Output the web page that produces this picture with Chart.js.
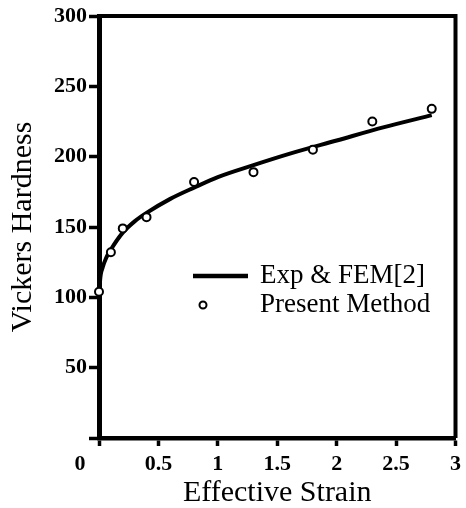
<!DOCTYPE html>
<html>
<head>
<meta charset="utf-8">
<script src="https://cdn.jsdelivr.net/npm/chart.js@4.4.1/dist/chart.umd.min.js"></script>
<style>
  html, body { margin: 0; padding: 0; background: #fff; }
  #wrap { width: 466px; height: 508px; }
</style>
</head>
<body>
<div id="wrap"><canvas id="c" width="466" height="508"></canvas></div>
<script>
// ---- data ----
const curveStrain   = [0, 0.01, 0.03, 0.06, 0.1, 0.2, 0.3, 0.4, 0.6, 0.8, 1.0, 1.3, 1.6, 2.0, 2.4, 2.8];
const curveHardness = [98, 113, 121, 128, 134, 146, 154, 160, 170, 178, 185.5, 194, 202, 211.5, 221, 229.5];
const presentStrain   = [0, 0.1, 0.2, 0.4, 0.8, 1.3, 1.8, 2.3, 2.8];
const presentHardness = [104, 132, 149, 157, 182, 189, 205, 225, 234];
const xTicks = [0, 0.5, 1, 1.5, 2, 2.5, 3];
const yTicks = [0, 50, 100, 150, 200, 250, 300];
const seriesNames = ['Exp & FEM[2]', 'Present Method'];
const xTitle = 'Effective Strain';
const yTitle = 'Vickers Hardness';

const SERIF = '"Liberation Serif", "Times New Roman", serif';

const framePlugin = {
  id: 'frame',
  afterDatasetsDraw(chart) {
    const {ctx, chartArea: a} = chart;
    ctx.save();
    ctx.strokeStyle = '#000';
    ctx.lineWidth = 4;
    ctx.beginPath();
    ctx.moveTo(a.left, a.top);
    ctx.lineTo(a.right, a.top);
    ctx.moveTo(a.right, a.top - 2);
    ctx.lineTo(a.right, a.bottom);
    ctx.stroke();
    ctx.restore();
  }
};

const zeroLabelPlugin = {
  id: 'zeroLabel',
  afterDraw(chart) {
    const {ctx} = chart;
    const xs = chart.scales.x;
    ctx.save();
    ctx.fillStyle = '#000';
    ctx.font = 'bold 22px ' + SERIF;
    ctx.textAlign = 'center';
    ctx.textBaseline = 'middle';
    ctx.fillText(String(xTicks[0]), xs.getPixelForValue(xTicks[0]) - 19, xs.top + 8 + 5 + 13.2);
    ctx.restore();
  }
};

const legendPlugin = {
  id: 'customLegend',
  afterDraw(chart) {
    const {ctx} = chart;
    const xs = chart.scales.x, ys = chart.scales.y;
    const x0 = xs.left + 94, y0 = ys.top + 260;
    ctx.save();
    ctx.strokeStyle = '#000';
    ctx.lineWidth = 4.5;
    ctx.beginPath();
    ctx.moveTo(x0, y0);
    ctx.lineTo(x0 + 55, y0);
    ctx.stroke();
    ctx.lineWidth = 2;
    ctx.fillStyle = '#fff';
    ctx.beginPath();
    ctx.arc(x0 + 10, y0 + 29, 3.5, 0, Math.PI * 2);
    ctx.fill();
    ctx.stroke();
    ctx.fillStyle = '#000';
    ctx.font = '27px ' + SERIF;
    ctx.textAlign = 'left';
    ctx.textBaseline = 'middle';
    ctx.fillText(seriesNames[0], x0 + 67, y0);
    ctx.fillText(seriesNames[1], x0 + 67, y0 + 29);
    ctx.restore();
  }
};

new Chart(document.getElementById('c'), {
  type: 'line',
  data: {
    datasets: [
      {
        label: seriesNames[1],
        data: presentStrain.map((x, i) => ({x, y: presentHardness[i]})),
        showLine: false,
        pointStyle: 'circle',
        pointRadius: 4,
        pointBorderWidth: 2,
        pointBackgroundColor: '#fff',
        pointBorderColor: '#000',
        borderColor: '#000',
        clip: false,
        order: 0
      },
      {
        label: seriesNames[0],
        data: curveStrain.map((x, i) => ({x, y: curveHardness[i]})),
        borderColor: '#000',
        borderWidth: 4,
        pointRadius: 0,
        cubicInterpolationMode: 'monotone',
        fill: false,
        clip: false,
        order: 1
      }
    ]
  },
  options: {
    responsive: false,
    animation: false,
    devicePixelRatio: 1,
    layout: { padding: { top: 16, right: 6.5, left: 0, bottom: 0 } },
    plugins: { legend: { display: false }, tooltip: { enabled: false } },
    scales: {
      x: {
        type: 'linear',
        min: 0, max: 3,
        afterBuildTicks(s) { s.ticks = xTicks.map(v => ({value: v})); },
        afterFit(s) { s.height = 70; },
        ticks: {
          color: '#000',
          padding: 5,
          font: { family: SERIF, size: 22, weight: 'bold' },
          callback: v => (v === 0 ? '' : String(v)),
          maxRotation: 0
        },
        grid: { drawOnChartArea: false, drawTicks: true, tickLength: 8, tickWidth: 3.5, tickColor: '#000' },
        border: { display: true, color: '#000', width: 4.5 },
        title: {
          display: true, text: xTitle, color: '#000',
          font: { family: SERIF, size: 30, lineHeight: 1 },
          padding: { top: 0, bottom: 0 }
        }
      },
      y: {
        type: 'linear',
        min: 0, max: 300,
        afterBuildTicks(s) { s.ticks = yTicks.map(v => ({value: v})); },
        afterFit(s) { s.width = 99; },
        ticks: {
          color: '#000',
          padding: 2,
          font: { family: SERIF, size: 22, weight: 'bold' },
          callback: v => (v === 0 ? '' : String(v))
        },
        grid: { drawOnChartArea: false, drawTicks: true, tickLength: 10, tickWidth: 3.5, tickColor: '#000' },
        border: { display: true, color: '#000', width: 5 },
        title: {
          display: true, text: yTitle, color: '#000',
          font: { family: SERIF, size: 30, lineHeight: 1 },
          padding: { top: 8, bottom: 0 }
        }
      }
    }
  },
  plugins: [framePlugin, zeroLabelPlugin, legendPlugin]
});
</script>
</body>
</html>
